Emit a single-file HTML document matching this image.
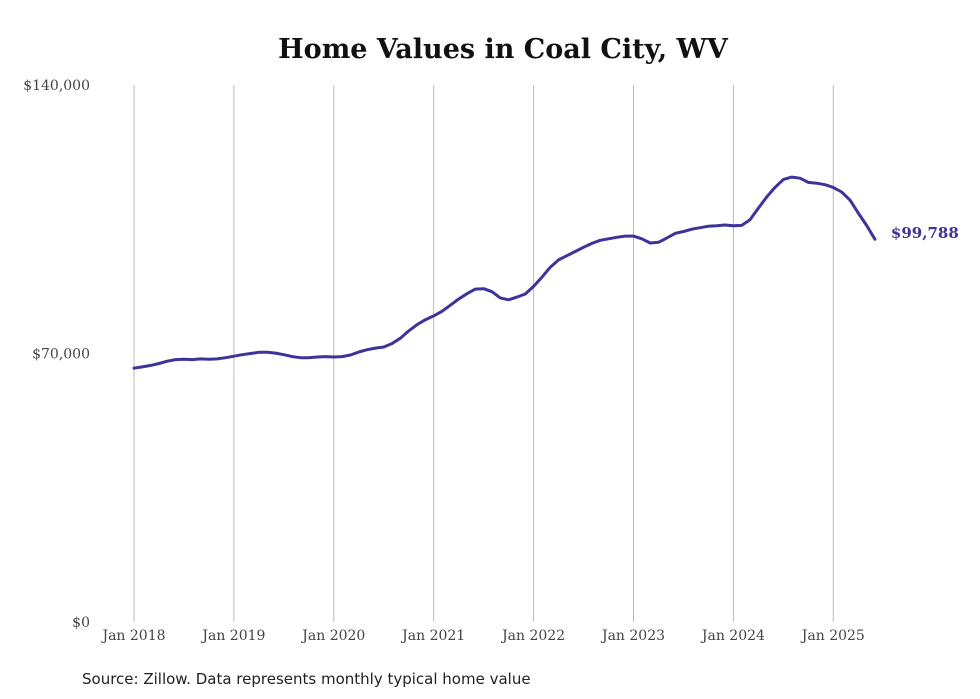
<!DOCTYPE html>
<html><head><meta charset="utf-8"><style>
body{margin:0;background:#fff;width:980px;height:699px;overflow:hidden}
svg{display:block}
</style></head><body>
<svg id="chart" width="980" height="699" viewBox="0 0 980 699">
<text x="503" y="58" text-anchor="middle" font-family="DejaVu Serif, Liberation Serif, serif" font-weight="bold" font-size="27" fill="#111">Home Values in Coal City, WV</text>
<g id="grid"></g>
<g id="yaxis"></g>
<g id="xaxis"></g>
<path id="line" fill="none" stroke="#3d3399" stroke-width="3" stroke-linejoin="round" stroke-linecap="round"/>
<text id="endlabel" font-family="DejaVu Serif, Liberation Serif, serif" font-weight="bold" font-size="15" fill="#3d3399"></text>
<text x="82" y="684" font-family="DejaVu Sans, Liberation Sans, sans-serif" font-size="15" fill="#222">Source: Zillow. Data represents monthly typical home value</text>
</svg>
<script>
const yTicks=[0,70000,140000];
const yTickLabels=["$0","$70,000","$140,000"];
const xTickYears=[2018,2019,2020,2021,2022,2023,2024,2025];
const xTickLabels=["Jan 2018","Jan 2019","Jan 2020","Jan 2021","Jan 2022","Jan 2023","Jan 2024","Jan 2025"];
const startYear=2018;
const values=[66.2,66.5,66.9,67.4,68.0,68.4,68.5,68.4,68.6,68.5,68.6,68.9,
69.3,69.7,70.0,70.3,70.3,70.1,69.7,69.2,68.9,68.9,69.1,69.2,
69.1,69.2,69.6,70.4,71.0,71.4,71.7,72.6,74.0,75.9,77.5,78.8,
79.8,81.0,82.6,84.2,85.6,86.8,86.9,86.1,84.5,84.0,84.7,85.5,
87.5,89.9,92.5,94.4,95.5,96.6,97.7,98.7,99.5,99.9,100.3,100.6,
100.6,99.9,98.8,99.0,100.1,101.3,101.8,102.4,102.8,103.2,103.3,103.5,
103.3,103.4,104.9,107.9,110.8,113.3,115.4,116.0,115.7,114.6,114.4,114.0,
113.3,112.1,110.0,106.6,103.4,99.788];
const lastLabel="$99,788";
const ns="http://www.w3.org/2000/svg";
const x0=134,pxYear=99.9,yBase=622,yTop=85,yMax=140000;
const xs=t=>x0+(t-startYear)*pxYear;
const ys=v=>yBase-(v/yMax)*(yBase-yTop);
const grid=document.getElementById('grid'),xa=document.getElementById('xaxis'),ya=document.getElementById('yaxis');
xTickYears.forEach((yr,i)=>{
 const l=document.createElementNS(ns,'line');
 
 
 l.setAttribute('x1',xs(yr));l.setAttribute('x2',xs(yr));l.setAttribute('y1',yTop);l.setAttribute('y2',yBase);
 l.setAttribute('stroke','#bbb');l.setAttribute('stroke-width','1');grid.appendChild(l);
 const t=document.createElementNS(ns,'text');
 
 
 t.setAttribute('x',xs(yr));t.setAttribute('y',640);t.setAttribute('text-anchor','middle');
 t.setAttribute('font-family','DejaVu Serif, Liberation Serif, serif');t.setAttribute('font-size','14');t.setAttribute('fill','#444');
 t.textContent=xTickLabels[i];xa.appendChild(t);
});
yTicks.forEach((v,i)=>{
 const t=document.createElementNS(ns,'text');
 
 
 t.setAttribute('x',90);t.setAttribute('y',ys(v)+5);t.setAttribute('text-anchor','end');
 t.setAttribute('font-family','DejaVu Serif, Liberation Serif, serif');t.setAttribute('font-size','14');t.setAttribute('fill','#444');
 t.textContent=yTickLabels[i];ya.appendChild(t);
});
let d='';
values.forEach((v,i)=>{const x=xs(startYear+i/12),y=ys(v*1000);d+=(i?'L':'M')+x.toFixed(1)+','+y.toFixed(1);});
document.getElementById('line').setAttribute('d',d);
const n=values.length-1,el=document.getElementById('endlabel');
el.setAttribute('x',xs(startYear+n/12)+16);el.setAttribute('y',ys(values[n]*1000)-1);
el.textContent=lastLabel;
</script>
</body></html>
